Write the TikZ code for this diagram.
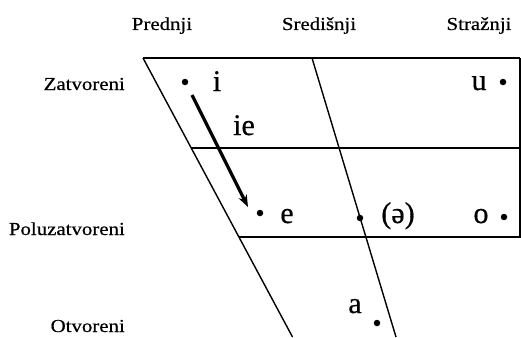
\documentclass[tikz,border=0pt]{standalone}
\usepackage{fontspec}
\setmainfont{Liberation Serif}[FakeStretch=1.12]
\newfontfamily\lblfont{Liberation Serif}[FakeStretch=1.14, FakeBold=0.6]
\newfontfamily\vowfont{Liberation Serif}[FakeBold=0.5]
\usetikzlibrary{arrows.meta}
\tikzset{
  lbl/.style={font=\lblfont\fontsize{18.3}{18}\selectfont, inner sep=0pt},
  vow/.style={font=\vowfont\fontsize{30}{30}\selectfont, inner sep=0pt, anchor=base},
  frame/.style={line width=1.8pt},
  thin/.style={line width=1.4pt},
  dot/.style={circle, fill=black, inner sep=0pt, minimum size=6.5pt},
}
\begin{document}
\begin{tikzpicture}[x=1pt,y=-1pt]
\useasboundingbox (0,0) rectangle (521,337);
% corners
\coordinate (TL) at (143,58);
\coordinate (TM) at (312,58);
\coordinate (TR) at (520,58);
\coordinate (BR) at (520,238);
\coordinate (LB) at (292.5,337);
\coordinate (MB) at (396,337);
\coordinate (H1L) at (191,148);
\coordinate (H1R) at (520,148);
\coordinate (H2L) at (238.5,237);
\coordinate (H2R) at (520,237);
% frame
\draw[line width=2.3pt] (TL) -- (TR);
\draw[frame] (TR) -- (BR);
\draw[thin] (TL) -- (LB);
\draw[thin] (TM) -- (MB);
\draw[frame] (H1L) -- (H1R);
\draw[frame] (H2L) -- (H2R);
% headers
\node[lbl, anchor=base] (pr) at (162,30) {Prednji};
\node[lbl, anchor=base] (sr) at (319,30) {Središnji};
\node[lbl, anchor=base] (st) at (479,30) {Stražnji};
\node[lbl, anchor=base east] (za) at (125,90) {Zatvoreni};
\node[lbl, anchor=base east] (po) at (125,235) {Poluzatvoreni};
\node[lbl, anchor=base east] (ot) at (125,332) {Otvoreni};
% vowels
\node[dot] (di) at (185,82) {};
\node[vow] (vi) at (217,91) {i};
\node[dot] (du) at (503,82) {};
\node[vow] (vu) at (479,90) {u};
\node[vow] (vie) at (244,135) {ie};
\node[dot] (de) at (260,213) {};
\node[vow] (ve) at (287,223) {e};
\node[dot] (dsch) at (360,218) {};
\node[vow] (vsch) at (398,223) {(ə)};
\node[dot] (do) at (504,217) {};
\node[vow] (vo) at (481,223) {o};
\node[dot] (da) at (377,323) {};
\node[vow] (va) at (355,313) {a};
% arrow
\coordinate (as) at (192,95);
\coordinate (ae) at (248,207);
\draw[line width=3.2pt, -{Stealth[length=12pt,width=9pt]}] (as) -- (ae);
\end{tikzpicture}
\end{document}
